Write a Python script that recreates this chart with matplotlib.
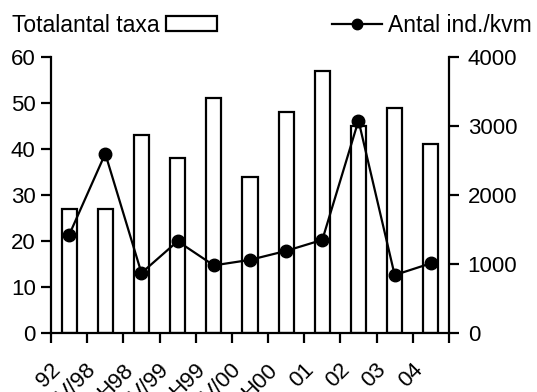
import numpy as np
import matplotlib.pyplot as plt
from matplotlib.patches import Rectangle
from matplotlib.lines import Line2D
from matplotlib.transforms import ScaledTranslation

plt.rcParams['font.family'] = ['Liberation Sans', 'DejaVu Sans']

periods = ['92', 'V/98', 'H98', 'V/99', 'H99', 'V/00', 'H00', '01', '02', '03', '04']
taxa = [27, 27, 43, 38, 51, 34, 48, 57, 45, 49, 41]
ind_per_kvm = [1420, 2600, 870, 1330, 980, 1060, 1190, 1350, 3080, 840, 1010]

fs = 16
lw = 1.6

fig = plt.figure(figsize=(5.37, 3.92), dpi=100)
ax = fig.add_axes([0.095, 0.1505, 0.741, 0.704])
ax2 = ax.twinx()

x = np.arange(len(periods))
ax.bar(x, taxa, width=0.42, facecolor='white', edgecolor='black', linewidth=lw)
ax2.plot(x, ind_per_kvm, color='black', linewidth=lw, marker='o', markersize=9)

ax.set_xlim(-0.5, len(periods) - 0.5)
ax.set_ylim(0, 60)
ax2.set_ylim(0, 4000)
ax.set_yticks(range(0, 61, 10))
ax2.set_yticks(range(0, 4001, 1000))

ax.set_xticks(np.arange(-0.5, len(periods), 1.0))
ax.set_xticklabels([])
ax.set_xticks(x, minor=True)
ax.set_xticklabels(periods, minor=True, rotation=45, ha='right', va='top',
                   rotation_mode='anchor')

for a in (ax, ax2):
    a.spines['top'].set_visible(False)
    for s in a.spines.values():
        s.set_linewidth(lw)
    a.tick_params(which='major', direction='out', length=7, width=lw, labelsize=fs)
ax.spines['right'].set_visible(False)
ax2.spines['left'].set_visible(False)
ax2.spines['bottom'].set_visible(False)
ax.tick_params(axis='y', pad=4)
ax2.tick_params(axis='y', pad=6.5)
ax.tick_params(axis='x', which='minor', length=0, labelsize=fs, pad=19)
# labels sit a bit left of the category centre, like the original
shift = ScaledTranslation(-0.19, 0, fig.dpi_scale_trans)
for lab in ax.get_xticklabels(minor=True):
    lab.set_transform(lab.get_transform() + shift)

# legends along the top
h1 = Rectangle((0, 0), 1, 1, facecolor='white', edgecolor='black', linewidth=lw)
fig.legend([h1], ['Totalantal taxa'], loc='center left', bbox_to_anchor=(0.022, 0.936),
           frameon=False, markerfirst=False, fontsize=16.5, handlelength=2.2,
           handleheight=0.65, handletextpad=0.3, borderpad=0, borderaxespad=0)
h2 = Line2D([], [], color='black', linewidth=lw, marker='o', markersize=7.5)
fig.legend([h2], ['Antal ind./kvm'], loc='center right', bbox_to_anchor=(0.991, 0.936),
           frameon=False, fontsize=16.5, handlelength=2.2, handletextpad=0.26,
           borderpad=0, borderaxespad=0)

fig.savefig('out.png', dpi=100)
